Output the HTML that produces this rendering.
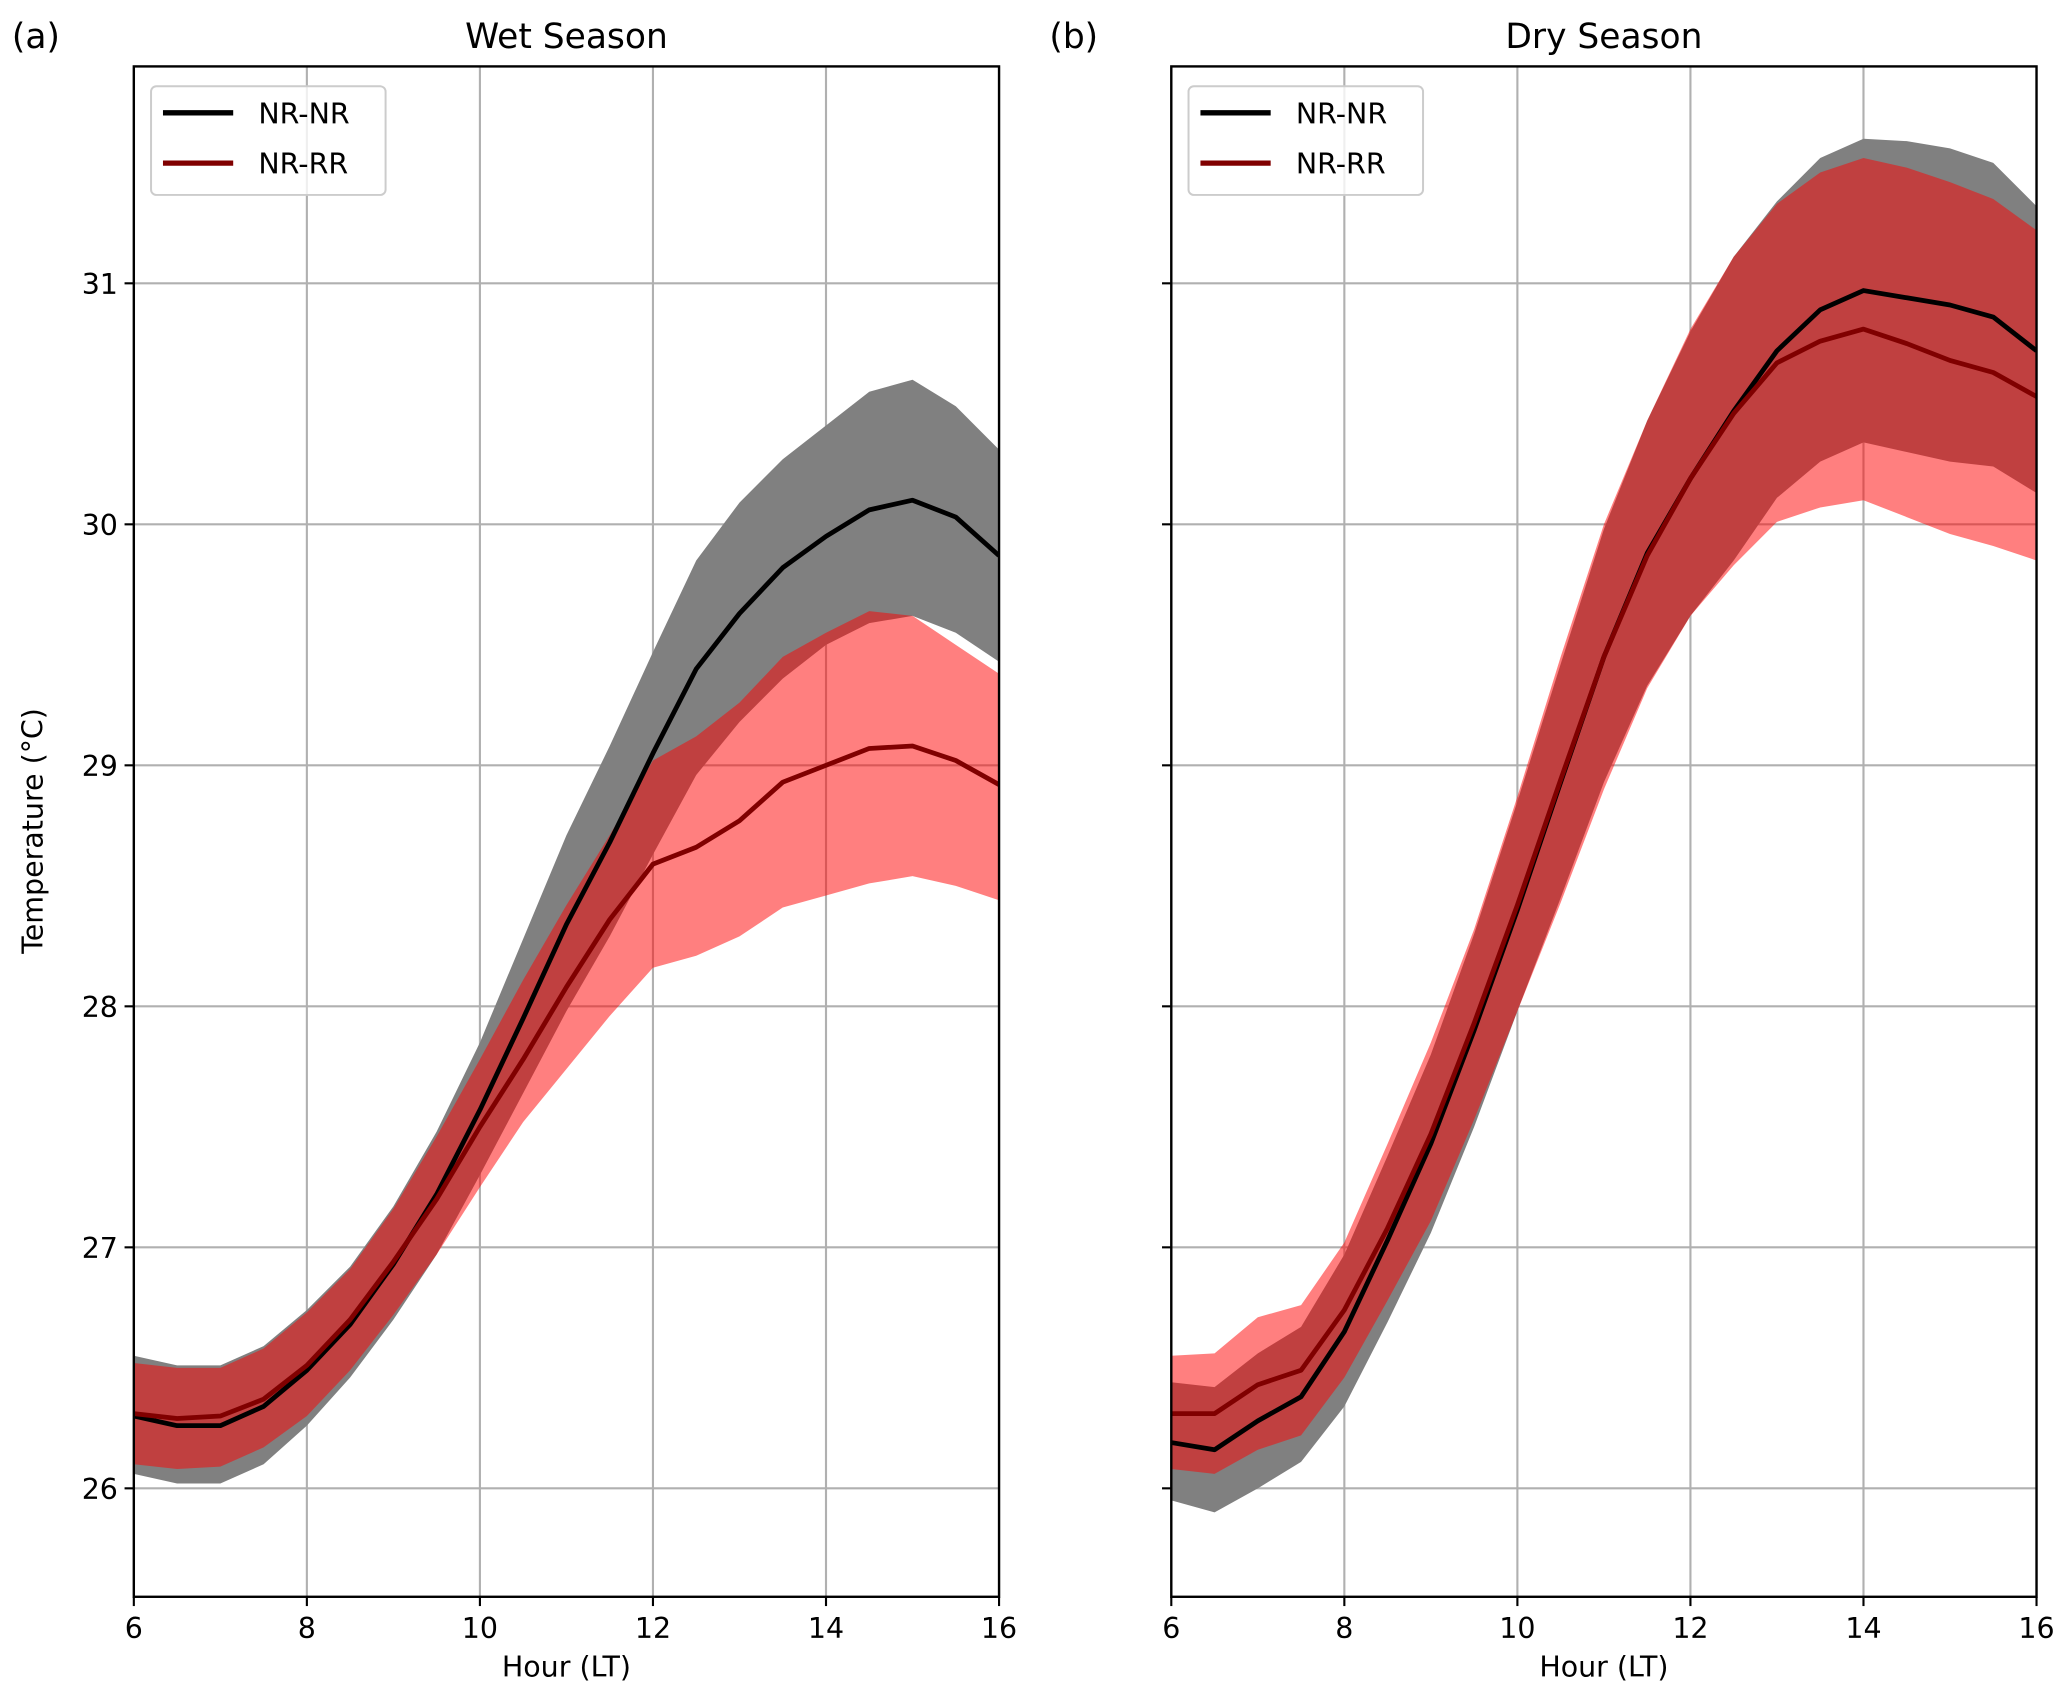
<!DOCTYPE html>
<html><head><meta charset="utf-8"><style>
html,body{margin:0;padding:0;background:#fff}
svg{display:block;font-family:"DejaVu Sans","Liberation Sans",sans-serif}
</style></head><body>
<svg id="chart" width="2067" height="1695" viewBox="0 0 1560 1279" xmlns="http://www.w3.org/2000/svg"></svg>
<script>
const hours=[6,6.5,7,7.5,8,8.5,9,9.5,10,10.5,11,11.5,12,12.5,13,13.5,14,14.5,15,15.5,16];
const wetNRNRmean=[26.30,26.26,26.26,26.34,26.49,26.68,26.93,27.22,27.57,27.95,28.34,28.68,29.05,29.40,29.63,29.82,29.95,30.06,30.10,30.03,29.87];
const wetNRNRup=[26.55,26.51,26.51,26.59,26.74,26.92,27.17,27.48,27.85,28.28,28.71,29.08,29.47,29.85,30.09,30.27,30.41,30.55,30.60,30.49,30.31];
const wetNRNRlo=[26.06,26.02,26.02,26.10,26.26,26.46,26.70,26.97,27.30,27.64,27.98,28.29,28.63,28.96,29.18,29.36,29.50,29.59,29.62,29.55,29.43];
const wetNRRRmean=[26.31,26.29,26.30,26.37,26.51,26.70,26.94,27.20,27.50,27.78,28.08,28.36,28.59,28.66,28.77,28.93,29.00,29.07,29.08,29.02,28.92];
const wetNRRRup=[26.52,26.50,26.50,26.58,26.73,26.91,27.16,27.46,27.78,28.11,28.42,28.71,29.02,29.12,29.26,29.45,29.55,29.64,29.62,29.50,29.38];
const wetNRRRlo=[26.10,26.08,26.09,26.17,26.30,26.49,26.72,26.97,27.25,27.52,27.74,27.96,28.16,28.21,28.29,28.41,28.46,28.51,28.54,28.50,28.44];
const dryNRNRmean=[26.19,26.16,26.28,26.38,26.65,27.03,27.43,27.90,28.40,28.93,29.45,29.88,30.19,30.47,30.72,30.89,30.97,30.94,30.91,30.86,30.72];
const dryNRNRup=[26.44,26.42,26.56,26.67,26.97,27.38,27.80,28.30,28.85,29.42,29.98,30.43,30.80,31.11,31.34,31.52,31.60,31.59,31.56,31.50,31.32];
const dryNRNRlo=[25.95,25.90,26.00,26.11,26.34,26.69,27.06,27.50,27.98,28.45,28.93,29.33,29.62,29.85,30.11,30.26,30.34,30.30,30.26,30.24,30.13];
const dryNRRRmean=[26.31,26.31,26.43,26.49,26.74,27.08,27.47,27.93,28.42,28.94,29.45,29.87,30.19,30.46,30.67,30.76,30.81,30.75,30.68,30.63,30.53];
const dryNRRRup=[26.55,26.56,26.71,26.76,27.02,27.43,27.85,28.32,28.87,29.45,30.00,30.43,30.81,31.11,31.33,31.46,31.52,31.48,31.42,31.35,31.22];
const dryNRRRlo=[26.08,26.06,26.16,26.22,26.46,26.78,27.11,27.53,27.98,28.43,28.90,29.32,29.62,29.83,30.01,30.07,30.10,30.03,29.96,29.91,29.85];
const xTicks=[6,8,10,12,14,16];
const yTicks=[26,27,28,29,30,31];

const NS="http://www.w3.org/2000/svg";
const svg=document.getElementById('chart');
const Y0=50,Y1=1205,YMIN=25.55,YMAX=31.9;
function mk(tag,attrs,parent){const e=document.createElementNS(NS,tag);for(const k in attrs)e.setAttribute(k,attrs[k]);(parent||svg).appendChild(e);return e;}
function yS(v){return Y1-(v-YMIN)/(YMAX-YMIN)*(Y1-Y0);}

function panel(id,X0,X1,title,label,showY,d){
  const xS=h=>X0+(h-6)/10*(X1-X0);
  const g=mk('g',{});
  
  
  xTicks.forEach(t=>{const l=mk('line',{x1:xS(t),x2:xS(t),y1:Y0,y2:Y1,stroke:'#b0b0b0','stroke-width':1.6},g);
    });
  yTicks.forEach(t=>{const l=mk('line',{x1:X0,x2:X1,y1:yS(t),y2:yS(t),stroke:'#b0b0b0','stroke-width':1.6},g);
    });
  const cp=mk('clipPath',{id:'cp'+id},g);mk('rect',{x:X0,y:Y0,width:X1-X0,height:Y1-Y0},cp);
  const gg=mk('g',{'clip-path':'url(#cp'+id+')'},g);
  const b=(up,lo,fill,op,name)=>{let p=hours.map((h,i)=>xS(h)+','+yS(up[i])).join(' ')+' '+hours.map((h,i)=>i).reverse().map(i=>xS(hours[i])+','+yS(lo[i])).join(' ');
    const e=mk('polygon',{points:p,fill:fill,'fill-opacity':op},gg);};
  const ln=(arr,col,name)=>{const e=mk('polyline',{points:hours.map((h,i)=>xS(h)+','+yS(arr[i])).join(' '),fill:'none',stroke:col,'stroke-width':3.6,'stroke-linejoin':'round'},gg);
    };
  b(d[1],d[2],'#808080',1,'nr-nr-band');
  b(d[4],d[5],'#ff0000',0.5,'nr-rr-band');
  ln(d[0],'#000000','nr-nr-line');
  ln(d[3],'#800000','nr-rr-line');
  const fr=mk('rect',{x:X0,y:Y0,width:X1-X0,height:Y1-Y0,fill:'none',stroke:'#000','stroke-width':1.8},g);
  
  xTicks.forEach(t=>{mk('line',{x1:xS(t),x2:xS(t),y1:Y1,y2:Y1+7,stroke:'#000','stroke-width':1.6},g);
    const tx=mk('text',{x:xS(t),y:Y1+31,'text-anchor':'middle','font-size':21.5},g);tx.textContent=t;
    });
  yTicks.forEach(t=>{mk('line',{x1:X0-7,x2:X0,y1:yS(t),y2:yS(t),stroke:'#000','stroke-width':1.6},g);
    if(showY){const tx=mk('text',{x:X0-12,y:yS(t)+8,'text-anchor':'end','font-size':21.5},g);tx.textContent=t;
      }});
  const xt=mk('text',{x:(X0+X1)/2,y:1265,'text-anchor':'middle','font-size':21.5},g);xt.textContent='Hour (LT)';
  
  const tt=mk('text',{x:(X0+X1)/2,y:36,'text-anchor':'middle','font-size':26},g);tt.textContent=title;
  
  const lb=mk('text',{x:X0-92,y:36,'font-size':26},g);lb.textContent=label;
  
  const lg=mk('g',{},g);
  mk('rect',{x:X0+13,y:65,width:177,height:82,rx:4,fill:'#fff','fill-opacity':0.8,stroke:'#ccc','stroke-width':1.5},lg);
  mk('line',{x1:X0+22,x2:X0+75,y1:85,y2:85,stroke:'#000','stroke-width':4},lg);
  const t1=mk('text',{x:X0+94,y:93,'font-size':21.5},lg);t1.textContent='NR-NR';
  
  mk('line',{x1:X0+22,x2:X0+75,y1:123,y2:123,stroke:'#800000','stroke-width':4},lg);
  const t2=mk('text',{x:X0+94,y:131,'font-size':21.5},lg);t2.textContent='NR-RR';
  
}
panel('a',101,754,'Wet Season','(a)',true,[wetNRNRmean,wetNRNRup,wetNRNRlo,wetNRRRmean,wetNRRRup,wetNRRRlo]);
panel('b',884,1537,'Dry Season','(b)',false,[dryNRNRmean,dryNRNRup,dryNRNRlo,dryNRRRmean,dryNRRRup,dryNRRRlo]);
const yt=mk('text',{x:32,y:627,'text-anchor':'middle','font-size':21.5,transform:'rotate(-90 32 627)'});
yt.textContent='Temperature (°C)';


</script>
</body></html>
